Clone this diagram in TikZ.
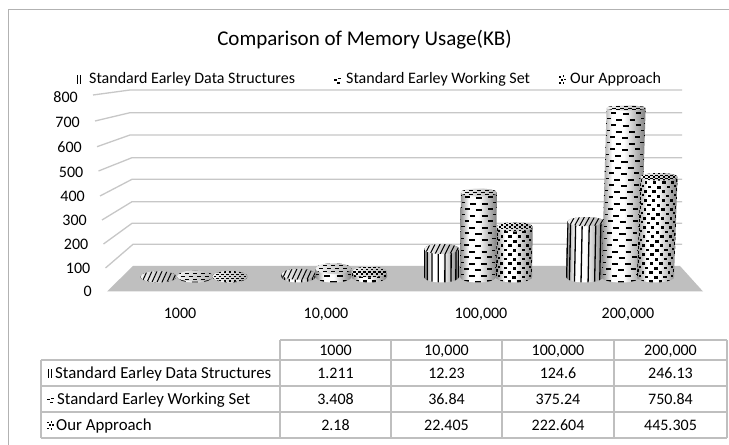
\documentclass[tikz,border=0pt]{standalone}
\usepackage{fontspec}
\setmainfont{Carlito}
\pgfdeclarehorizontalshading{cylshade}{100bp}{color(0bp)=(black!45); color(25bp)=(black!45); color(37bp)=(white); color(50bp)=(white); color(75bp)=(black!50); color(100bp)=(black!50)}
\tikzset{
  gridln/.style={draw=black!22, line width=1.3bp},
  lbl/.style={font=\fontsize{16bp}{19bp}\selectfont, text=black, inner sep=0pt},
  rowlbl/.style={font=\fontsize{16.8bp}{19bp}\selectfont, text=black, inner sep=0pt},
  ttl/.style={font=\fontsize{21bp}{25bp}\selectfont, text=black, inner sep=0pt},
  tline/.style={draw=black!25, line width=1.2bp},
  floorfill/.style={fill=black!25},
  framebox/.style={draw=black!30, line width=1bp},
}
\newcommand\drawcyl[4]{%
  \pgfmathsetmacro\cyBX{#1}%
  \pgfmathsetmacro\cyR{#2}%
  \pgfmathsetmacro\cyTY{277-0.225*#3}%
  \pgfmathsetmacro\cyLean{(#1-400)*1.5e-4}%
  \pgfmathsetmacro\cyTX{#1+\cyLean*(277-\cyTY)}%
  \pgfmathsetmacro\cyET{2.5+(\cyTY-105)*3/172}%
  \pgfmathtruncatemacro\cyType{#4}%
  \path[shading=cylshade] (\cyBX+\cyR,277) arc[start angle=0,end angle=180,x radius=\cyR,y radius=5.5] -- (\cyTX-\cyR,\cyTY) arc[start angle=180,end angle=360,x radius=\cyR,y radius=\cyET] -- cycle;
  \begin{scope}
    \clip (\cyBX+\cyR,277) arc[start angle=0,end angle=180,x radius=\cyR,y radius=5.5] -- (\cyTX-\cyR,\cyTY) arc[start angle=180,end angle=360,x radius=\cyR,y radius=\cyET] -- cycle;
    \ifcase\cyType\or
      \foreach \a in {-77,-55,-33,-11,11,33,55,77}{%
        \draw[line width=1.3bp] ({\cyBX+\cyR*sin(\a)},284) -- ({\cyTX+\cyR*sin(\a)},{\cyTY-6});}
    \or
      \pgfmathtruncatemacro\cyN{(277-\cyTY)/6+2}%
      \foreach \k in {0,...,\cyN}{%
        \pgfmathsetmacro\cyY{279-6*\k}%
        \pgfmathsetmacro\cyX{\cyBX+\cyLean*(277-\cyY)}%
        \pgfmathtruncatemacro\cyP{mod(\k,2)}%
        \ifnum\cyP=0 \def\cyAngs{-80,-40,0,40,80}\else\def\cyAngs{-60,-20,20,60}\fi
        \foreach \a in \cyAngs{%
          \draw[line width=1.8bp] ({\cyX+\cyR*sin(\a)-3.1*cos(\a)},{\cyY+3*cos(\a)}) -- ({\cyX+\cyR*sin(\a)+3.1*cos(\a)},{\cyY+3*cos(\a)});}
      }
    \or
      \pgfmathtruncatemacro\cyN{(277-\cyTY)/4.5+2}%
      \foreach \k in {0,...,\cyN}{%
        \pgfmathsetmacro\cyY{279-4.5*\k}%
        \pgfmathsetmacro\cyX{\cyBX+\cyLean*(277-\cyY)}%
        \pgfmathtruncatemacro\cyP{mod(\k,2)}%
        \ifnum\cyP=0 \def\cyAngs{-75,-45,-15,15,45,75}\else\def\cyAngs{-90,-60,-30,0,30,60,90}\fi
        \foreach \a in \cyAngs{%
          \fill ({\cyX+\cyR*sin(\a)-1.6*cos(\a)},{\cyY+3*cos(\a)-1.4}) rectangle ++({3.2*cos(\a)+0.4},2.8);}
      }
    \fi
  \end{scope}
  \path[left color=black!5, right color=black!30] (\cyTX,\cyTY) ellipse[x radius=\cyR,y radius=\cyET];
  \begin{scope}
    \clip (\cyTX,\cyTY) ellipse[x radius=\cyR,y radius=\cyET];
    \ifcase\cyType\or
      \foreach \d in {-24,-19,...,24}{\draw[line width=1bp] (\cyTX+\d-2.5,\cyTY+\cyET) -- (\cyTX+\d+2.5,\cyTY-\cyET);}
    \or
      \foreach \j/\o in {-1/0,0/4,1/0}{\foreach \d in {-16,-8,...,16}{\draw[line width=1.1bp] ({\cyTX+\d+\o-2},{\cyTY+\j*\cyET*0.55}) -- ++(4,0);}}
    \or
      \foreach \j/\o in {-2/0,-1/2.5,0/0,1/2.5,2/0}{\foreach \d in {-20,-15,...,20}{\fill ({\cyTX+\d+\o-1.2},{\cyTY+\j*\cyET*0.4-0.7}) rectangle ++(2.4,1.4);}}
    \fi
  \end{scope}
}
\newcommand\swatch[3]{%
  \ifcase#3\or
    \fill (#1+0.5,#2) rectangle ++(1.4,8.5);
    \fill (#1+3.8,#2) rectangle ++(1.4,8.5);
  \or
    \fill (#1,#2+4) rectangle ++(2.6,1.2);
    \fill (#1+3.6,#2+2.5) rectangle ++(3.2,1.2);
    \fill (#1+2.5,#2+7) rectangle ++(3.5,1.2);
  \or
    \fill (#1,#2+0.5) rectangle ++(1.8,1.8);
    \fill (#1+3.5,#2) rectangle ++(1.8,1.8);
    \fill (#1+1.8,#2+3.4) rectangle ++(1.8,1.8);
    \fill (#1+5.2,#2+3.2) rectangle ++(1.8,1.8);
    \fill (#1,#2+6.6) rectangle ++(1.8,1.8);
    \fill (#1+3.6,#2+6.8) rectangle ++(1.8,1.8);
  \fi
}
\begin{document}
\begin{tikzpicture}[x=1bp,y=-1bp]
\useasboundingbox (0,0) rectangle (729,445);
\fill[white] (0,0) rectangle (729,445);
\draw[framebox] (8,9.5) rectangle (760,480);
% title
\node[ttl, anchor=base] (title) at (364.5,46) {Comparison of Memory Usage(KB)};
% legend
\swatch{76}{75.5}{1}
\node[lbl, anchor=base west] (leg1) at (89,84) {Standard Earley Data Structures};
\swatch{334}{75.5}{2}
\node[lbl, anchor=base west] (leg2) at (346,84) {Standard Earley Working Set};
\swatch{559}{75.5}{3}
\node[lbl, anchor=base west] (leg3) at (570,84) {Our Approach};
% gridlines and axis labels
\foreach \v/\yf/\xf/\yb/\xb/\yl in {800/95/93/90/130/97.5, 700/121/95/112.7/130/122, 600/146.7/97/135/130/146.7, 500/171/98.5/157.7/132/172, 400/196/100/179.3/132/196, 300/220/102/201.7/132/220, 200/244/103.5/223.3/132/244, 100/268/105.5/244.3/133/268}{
  \draw[gridln] (\xf,\yf) -- (\xb,\yb) -- (682,\yb);
  \node[lbl, anchor=base east] (ax\v) at (\xf-15,\yl+5.4) {\v};
}
\node[lbl, anchor=base east] (ax0) at (92,297) {0};
% floor
\path[floorfill] (107,291.5) -- (133,266) -- (680,266) -- (703,291.5) -- cycle;
% cylinders
\drawcyl{158.5}{18}{1.211}{1}
\drawcyl{195}{18}{3.408}{2}
\drawcyl{230}{17.5}{2.18}{3}
\drawcyl{298.5}{17}{12.23}{1}
\drawcyl{333.5}{18}{36.84}{2}
\drawcyl{369.5}{17.5}{22.405}{3}
\drawcyl{441.5}{17.5}{124.6}{1}
\drawcyl{478}{18}{375.24}{2}
\drawcyl{514}{18}{222.604}{3}
\drawcyl{584.5}{18.5}{246.13}{1}
\drawcyl{621}{19.5}{750.84}{2}
\drawcyl{655.5}{18.5}{445.305}{3}
% category labels
\node[lbl, anchor=base] (c1) at (180,318.5) {1000};
\node[lbl, anchor=base] (c2) at (326,318.5) {10,000};
\node[lbl, anchor=base] (c3) at (481,318.5) {100,000};
\node[lbl, anchor=base] (c4) at (628,318.5) {200,000};
% table
\draw[tline] (280,340) -- (727,340);
\foreach \y in {360,386,412,438}{\draw[tline] (41,\y) -- (727,\y);}
\draw[tline] (41,360) -- (41,438);
\foreach \x in {280,391,502,614,727}{\draw[tline] (\x,340) -- (\x,438);}
\node[lbl, anchor=base] (h1) at (335.5,355.2) {1000};
\node[lbl, anchor=base] (h2) at (446.5,355.2) {10,000};
\node[lbl, anchor=base] (h3) at (558,355.2) {100,000};
\node[lbl, anchor=base] (h4) at (670.5,355.2) {200,000};
\swatch{47}{369}{1}
\node[rowlbl, anchor=base west] (r1) at (55,378.2) {Standard Earley Data Structures};
\swatch{47}{395}{2}
\node[rowlbl, anchor=base west] (r2) at (57,404.2) {Standard Earley Working Set};
\swatch{47}{421}{3}
\node[rowlbl, anchor=base west] (r3) at (56,430.2) {Our Approach};
\node[lbl, anchor=base] (d11) at (335.5,378.2) {1.211};
\node[lbl, anchor=base] (d12) at (446.5,378.2) {12.23};
\node[lbl, anchor=base] (d13) at (558,378.2) {124.6};
\node[lbl, anchor=base] (d14) at (670.5,378.2) {246.13};
\node[lbl, anchor=base] (d21) at (335.5,404.2) {3.408};
\node[lbl, anchor=base] (d22) at (446.5,404.2) {36.84};
\node[lbl, anchor=base] (d23) at (558,404.2) {375.24};
\node[lbl, anchor=base] (d24) at (670.5,404.2) {750.84};
\node[lbl, anchor=base] (d31) at (335.5,430.2) {2.18};
\node[lbl, anchor=base] (d32) at (446.5,430.2) {22.405};
\node[lbl, anchor=base] (d33) at (558,430.2) {222.604};
\node[lbl, anchor=base] (d34) at (670.5,430.2) {445.305};
\end{tikzpicture}
\end{document}
